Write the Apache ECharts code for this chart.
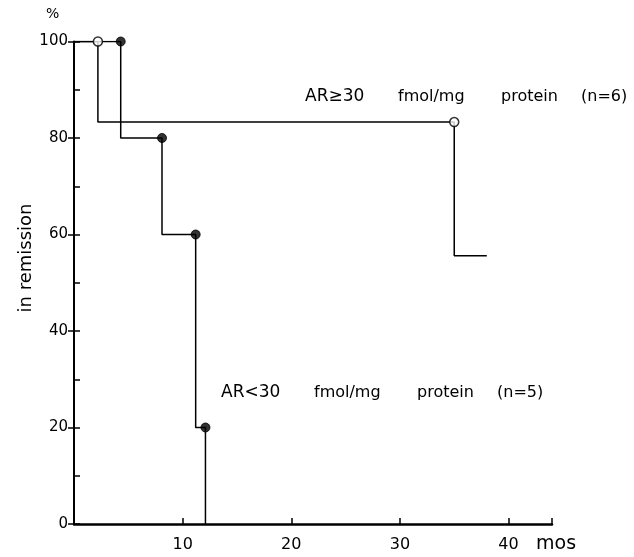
<!DOCTYPE html>
<html>
<head>
<meta charset="utf-8">
<script src="https://cdn.jsdelivr.net/npm/echarts@6/dist/echarts.min.js"></script>
<style>
  html, body { margin: 0; padding: 0; background: #fff; }
  #chart { width: 634px; height: 557px; }
</style>
</head>
<body>
<div id="chart"></div>
<script>
// Remission curves: months vs percent still in remission
const highMonths = [0, 2.2, 35, 38];          // AR >= 30 group
const highPct    = [100, 83.3, 55.6, 55.6];
const highMarkMonths = [2.2, 35];              // open circles
const highMarkPct    = [100, 83.3];

const lowMonths = [0, 4.3, 8.1, 11.2, 12.1];   // AR < 30 group
const lowPct    = [100, 80, 60, 20, 0];
const lowMarkMonths = [4.3, 8.1, 11.2, 12.1];  // filled dots
const lowMarkPct    = [100, 80, 60, 20];

const xTicks = [10, 20, 30, 40];
const yTicks = [0, 20, 40, 60, 80, 100];

const highLabel = ['AR≥30', 'fmol/mg', 'protein', '(n=6)'];
const lowLabel  = ['AR<30', 'fmol/mg', 'protein', '(n=5)'];

const FONT = '"DejaVu Sans", sans-serif';
const zip = (a, b) => a.map((v, i) => [v, b[i]]);

// one curve caption, word by word with wide typewriter-like gaps
function caption(words, x0, y) {
  const offsets = [0, 93, 196, 276];
  return words.map((w, i) => ({
    type: 'text', x: x0 + offsets[i], y: y,
    style: {
      text: w, font: (i === 0 ? '17px ' : '16px ') + FONT,
      fill: '#000', verticalAlign: 'middle'
    }
  }));
}

const chart = echarts.init(document.getElementById('chart'), null, { renderer: 'canvas' });

chart.setOption({
  backgroundColor: '#fff',
  animation: false,
  grid: { left: 74, right: 82, top: 41.5, bottom: 33, containLabel: false },
  xAxis: {
    type: 'value', min: 0, max: 44, interval: 10,
    axisLine: { show: true, lineStyle: { color: '#000', width: 2.5 } },
    axisTick: { show: true, inside: true, length: 6, lineStyle: { color: '#000', width: 1.5 } },
    axisLabel: {
      margin: 13, color: '#000', fontFamily: FONT, fontSize: 16,
      formatter: v => (xTicks.includes(v) ? String(v) : '')
    },
    splitLine: { show: false }
  },
  yAxis: [{
    type: 'value', min: 0, max: 100, interval: 20,
    axisLine: { show: true, lineStyle: { color: '#000', width: 2 } },
    axisTick: { show: true, inside: false, length: 6, lineStyle: { color: '#000', width: 1.5 } },
    axisLabel: {
      margin: 6, color: '#000', fontFamily: FONT, fontSize: 15,
      formatter: v => (yTicks.includes(v) ? String(v) : '')
    },
    splitLine: { show: false }
  }, {
    // inner tick marks every 10 %
    type: 'value', min: 0, max: 100, interval: 10, position: 'left',
    axisLine: { show: false },
    axisTick: { show: true, inside: true, length: 6, lineStyle: { color: '#000', width: 1.5 } },
    axisLabel: { show: false },
    splitLine: { show: false }
  }],
  series: [
    {
      type: 'line', step: 'end', data: zip(highMonths, highPct),
      showSymbol: false, lineStyle: { color: '#000', width: 1.5 }, z: 2
    },
    {
      type: 'line', step: 'end', data: zip(lowMonths, lowPct),
      showSymbol: false, lineStyle: { color: '#000', width: 1.5 }, z: 2
    },
    {
      type: 'scatter', data: zip(highMarkMonths, highMarkPct),
      symbol: 'circle', symbolSize: 9,
      itemStyle: { color: '#fff', borderColor: '#000', borderWidth: 1.5 }, z: 4
    },
    {
      type: 'scatter', data: zip(lowMarkMonths, lowMarkPct),
      symbol: 'circle', symbolSize: 9,
      itemStyle: { color: '#000', borderColor: '#000', borderWidth: 1 }, z: 4
    }
  ],
  graphic: [
    { type: 'text', left: 46, top: 7, style: { text: '%', font: '14px ' + FONT, fill: '#000' } },
    {
      type: 'text', x: 26, y: 258, rotation: Math.PI / 2,
      style: { text: 'in remission', font: '18px ' + FONT, fill: '#000', align: 'center', verticalAlign: 'middle' }
    },
    { type: 'text', left: 536, top: 535, style: { text: 'mos', font: '19px ' + FONT, fill: '#000' } }
  ].concat(caption(highLabel, 305, 97), caption(lowLabel, 221, 393))
});
</script>
</body>
</html>
